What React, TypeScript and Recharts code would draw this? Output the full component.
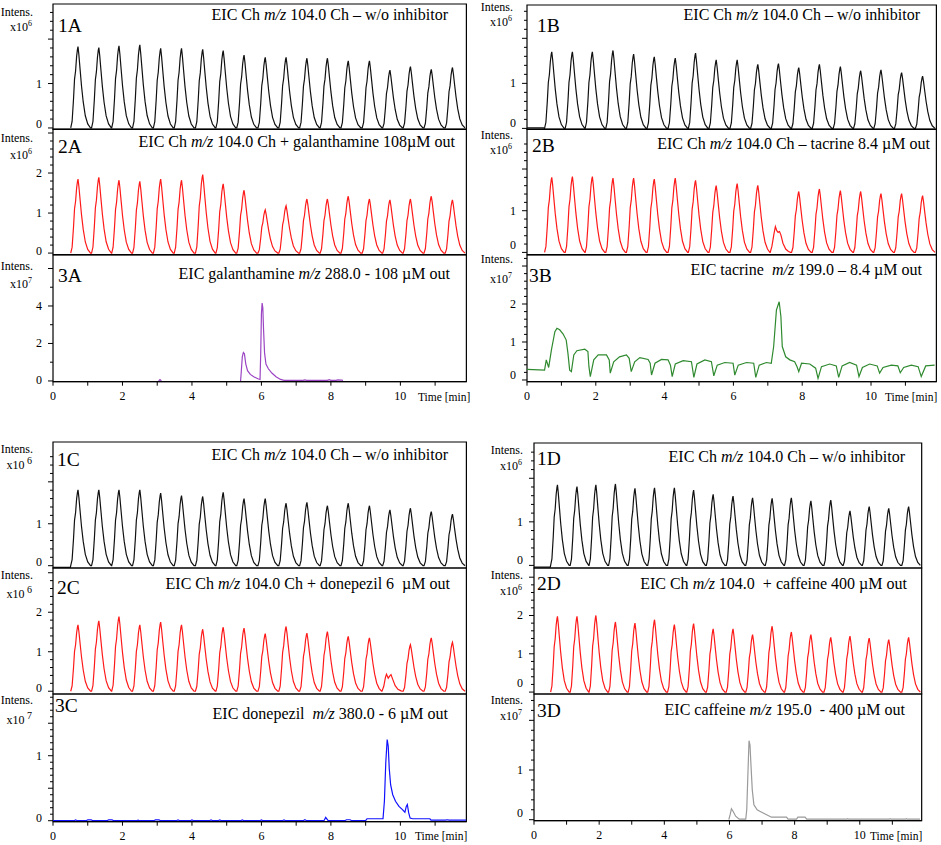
import React from 'react';
import { LineChart, Line, XAxis, YAxis, ReferenceArea } from 'recharts';

const FONT = "'Liberation Serif', 'Times New Roman', serif";
const X_MAX = 11.9;

// apex times (min) of the 19 choline pulses
const pulseTimes = [0.72, 1.32, 1.9, 2.5, 3.1, 3.7, 4.31, 4.9, 5.5, 6.11, 6.71, 7.31, 7.9, 8.5, 9.11, 9.7, 10.29, 10.89, 11.5];
// pulse profile: offset from apex (min) and fraction of apex
const pulseOffsets = [-0.21, -0.17, -0.13, -0.1, -0.07, -0.04, -0.015, 0, 0.025, 0.06, 0.1, 0.15, 0.21, 0.28, 0.36];
const pulseFractions = [0, 0.08, 0.35, 0.6, 0.7, 0.88, 0.97, 1, 0.9, 0.72, 0.52, 0.32, 0.15, 0.05, 0];

// apex intensities, x10^6
const ch1A = [1.83, 1.81, 1.85, 1.87, 1.79, 1.79, 1.77, 1.74, 1.64, 1.59, 1.59, 1.57, 1.57, 1.51, 1.51, 1.3, 1.38, 1.32, 1.36];
const ch2A = [1.85, 1.89, 1.82, 1.79, 1.85, 1.82, 1.96, 1.73, 1.57, 1.08, 1.18, 1.35, 1.35, 1.42, 1.35, 1.33, 1.35, 1.42, 1.33];
const ch1B = [1.7, 1.7, 1.7, 1.73, 1.65, 1.59, 1.56, 1.67, 1.52, 1.52, 1.42, 1.44, 1.35, 1.42, 1.37, 1.28, 1.3, 1.24, 1.16];
const ch2B = [1.8, 1.82, 1.82, 1.78, 1.78, 1.76, 1.78, 1.73, 1.6, 1.65, 1.61, null, 1.46, 1.52, 1.48, 1.46, 1.41, 1.41, 1.36];
const ch1C = [1.81, 1.81, 1.81, 1.81, 1.73, 1.67, 1.65, 1.75, 1.6, 1.6, 1.49, 1.51, 1.43, 1.49, 1.43, 1.33, 1.37, 1.29, 1.23];
const ch2C = [1.68, 1.78, 1.89, 1.68, 1.75, 1.68, 1.57, 1.62, 1.6, 1.46, 1.64, 1.47, 1.51, 1.39, 1.35, null, 1.18, 1.35, 1.24];
const ch1D = [1.85, 1.81, 1.85, 1.87, 1.77, 1.78, 1.78, 1.73, 1.63, 1.59, 1.55, 1.54, 1.55, 1.48, 1.5, 1.25, 1.35, 1.31, 1.35];
const ch2D = [1.98, 1.98, 2.0, 1.83, 1.8, 1.89, 1.76, 1.79, 1.65, 1.65, 1.5, 1.72, 1.57, 1.5, 1.43, 1.46, 1.41, 1.37, 1.43];

// flat starts before first pulse
const lead1B = [[0, 0.01], [0.48, 0.01]];
const lead1C = [[0, -0.04], [0.5, -0.04]];
const lead1D = [[0, -0.04], [0.5, -0.04]];

// suppressed pulses
const tacrinePulse = [[7.06, 0], [7.12, 0.15], [7.18, 0.45], [7.22, 0.62], [7.26, 0.52], [7.3, 0.48], [7.34, 0.5], [7.38, 0.42], [7.44, 0.22], [7.52, 0.08], [7.6, 0.02], [7.66, 0]];
const donepezilPulse = [[9.46, 0], [9.52, 0.12], [9.57, 0.35], [9.6, 0.43], [9.65, 0.33], [9.69, 0.38], [9.73, 0.42], [9.78, 0.3], [9.85, 0.14], [9.93, 0.05], [10.02, 0.01], [10.06, 0]];

// inhibitor traces, x10^7
const galanthamineBlip = [[3.04, 0], [3.08, 0.07], [3.12, 0]];
const galanthamineMain = [[5.4, 0], [5.42, 0.5], [5.45, 1.3], [5.48, 1.52], [5.51, 1.45], [5.55, 0.9], [5.6, 0.55], [5.68, 0.35], [5.78, 0.22], [5.9, 0.12], [5.96, 0.08], [5.98, 1.5], [6.0, 3.6], [6.02, 4.15], [6.04, 3.9], [6.06, 2.8], [6.09, 1.5], [6.13, 0.9], [6.2, 0.65], [6.3, 0.42], [6.42, 0.22], [6.55, 0.08], [6.65, 0.03], [7.2, 0.03], [7.25, 0.06], [7.3, 0.03], [7.9, 0.03], [7.95, 0.07], [8.0, 0.03], [8.15, 0.03], [8.2, 0.06], [8.3, 0.04], [8.35, 0.03]];

const tacrine = [[0, 0.28], [0.51, 0.26], [0.56, 0.53], [0.63, 0.33], [0.71, 0.79], [0.81, 1.27], [0.87, 1.36], [0.95, 1.32], [1.05, 1.21], [1.14, 1.05], [1.19, 0.7], [1.24, 0.26], [1.29, 0.22],
  [1.36, 0.66], [1.45, 0.77], [1.68, 0.81], [1.77, 0.75], [1.8, 0.35], [1.84, 0.09],
  [1.94, 0.53], [2.07, 0.66], [2.31, 0.66], [2.39, 0.53], [2.42, 0.18],
  [2.52, 0.48], [2.69, 0.61], [2.89, 0.66], [2.97, 0.57], [3.03, 0.22],
  [3.13, 0.48], [3.28, 0.59], [3.52, 0.54], [3.58, 0.44], [3.62, 0.13],
  [3.72, 0.44], [3.91, 0.54], [4.1, 0.53], [4.17, 0.39], [4.22, 0.09],
  [4.31, 0.42], [4.54, 0.51], [4.78, 0.48], [4.85, 0.07],
  [4.94, 0.42], [5.17, 0.53], [5.36, 0.48], [5.43, 0.11],
  [5.53, 0.39], [5.75, 0.46], [5.99, 0.44], [6.04, 0.13],
  [6.14, 0.39], [6.38, 0.46], [6.59, 0.44], [6.65, 0.07],
  [6.75, 0.39], [6.96, 0.46], [7.1, 0.44], [7.17, 0.88], [7.25, 1.84], [7.33, 2.06], [7.38, 1.67], [7.42, 0.88], [7.52, 0.61], [7.64, 0.53], [7.78, 0.48], [7.85, 0.35], [7.9, 0.22],
  [7.98, 0.44], [8.22, 0.42], [8.39, 0.31], [8.46, 0.04],
  [8.56, 0.35], [8.8, 0.42], [8.99, 0.37], [9.06, 0.07],
  [9.16, 0.37], [9.38, 0.46], [9.58, 0.39], [9.65, 0.09],
  [9.75, 0.33], [9.96, 0.42], [10.18, 0.37], [10.25, 0.18],
  [10.35, 0.33], [10.59, 0.39], [10.78, 0.37], [10.85, 0.19],
  [10.95, 0.33], [11.17, 0.39], [11.37, 0.35], [11.46, 0.09], [11.59, 0.37], [11.85, 0.39]];

const donepezil = [[0, 0], [0.6, 0], [0.65, 0.012], [0.7, 0], [0.95, 0], [1.0, 0.012], [1.1, 0.012], [1.15, 0], [1.55, 0], [1.6, 0.012], [1.7, 0.012], [1.75, 0], [2.4, 0], [2.45, 0.01], [2.5, 0], [2.9, 0], [2.95, 0.012], [3.05, 0.012], [3.1, 0], [3.55, 0], [3.6, 0.012], [3.65, 0], [3.95, 0], [4.0, 0.012], [4.05, 0], [4.5, 0], [4.55, 0.012], [4.6, 0], [4.75, 0], [4.8, 0.012], [4.85, 0], [5.4, 0], [5.45, 0.012], [5.5, 0], [5.95, 0], [6.0, 0.012], [6.05, 0], [6.6, 0], [6.65, 0.012], [6.7, 0], [7.2, 0], [7.25, 0.015], [7.3, 0], [7.8, 0], [7.85, 0.05], [7.92, 0], [8.4, 0], [8.45, 0.015], [8.55, 0.015], [8.6, 0], [9.0, 0], [9.04, 0.03], [9.5, 0.03], [9.54, 0.3], [9.58, 0.9], [9.62, 1.25], [9.65, 1.15], [9.68, 0.8], [9.72, 0.55], [9.78, 0.4], [9.86, 0.3], [9.96, 0.22], [10.06, 0.17], [10.13, 0.13], [10.17, 0.22], [10.2, 0.25], [10.24, 0.12], [10.28, 0.04], [10.35, 0.03], [10.85, 0.03], [10.88, 0.01], [11.3, 0.01], [11.35, 0.015], [11.4, 0.01], [11.9, 0.01]];

const caffeine = [[5.98, 0], [6.02, 0.1], [6.06, 0.22], [6.11, 0.17], [6.19, 0.07], [6.3, 0.01], [6.5, 0.01], [6.53, 0.2], [6.56, 0.8], [6.6, 1.59], [6.63, 1.5], [6.66, 1.1], [6.7, 0.6], [6.75, 0.3], [6.85, 0.2], [6.93, 0.17], [7.05, 0.13], [7.14, 0.1], [7.29, 0.05], [7.75, 0.05], [7.8, 0.01], [8.06, 0.01], [8.1, 0.05], [8.32, 0.05], [8.37, 0.01], [9.6, 0.01], [9.63, 0.02], [9.66, 0.01], [10.9, 0.01], [10.93, 0.02], [10.96, 0.01], [11.4, 0.01], [11.43, 0.02], [11.46, 0.01], [11.85, 0.01]];

// axis ticks
const xTicks = [0, 1, 2, 3, 4, 5, 6, 7, 8, 9, 10, 11];
const xLabels = [0, 2, 4, 6, 8, 10];
const yE6Major = [0, 1, 2];
const yE6Minor = [0.2, 0.4, 0.6, 0.8, 1.2, 1.4, 1.6, 1.8, 2.2, 2.4, 2.6];
const yE6bMajor = [0, 1, 2, 3];
const yE6bMinor = [0.2, 0.4, 0.6, 0.8, 1.2, 1.4, 1.6, 1.8, 2.2, 2.4, 2.6, 2.8];
const yGalMajor = [0, 2, 4, 6];
const yGalMinor = [1, 3, 5];
const yTacMajor = [0, 1, 2, 3];
const yTacMinor = [0.2, 0.4, 0.6, 0.8, 1.2, 1.4, 1.6, 1.8, 2.2, 2.4, 2.6, 2.8, 3.2];
const yDonMajor = [0, 0.5, 1, 1.5];
const yDonMinor = [0.1, 0.2, 0.3, 0.4, 0.6, 0.7, 0.8, 0.9, 1.1, 1.2, 1.3, 1.4, 1.6, 1.7, 1.8, 1.9];
const yCafMajor = [0, 1, 2];
const yCafMinor = [0.2, 0.4, 0.6, 0.8, 1.2, 1.4, 1.6, 1.8, 2.2, 2.4];

type Pt = { t: number; v: number | null };

function pulseTrain(heights: (number | null)[], lead: number[][] = [], extra: number[][] = []): Pt[] {
  const pts: number[][] = lead.map((p) => [p[0], p[1]]);
  heights.forEach((h, i) => {
    if (h === null) return;
    pulseOffsets.forEach((dt, k) => pts.push([pulseTimes[i] + dt, h * pulseFractions[k]]));
  });
  extra.forEach((p) => pts.push([p[0], p[1]]));
  pts.sort((a, b) => a[0] - b[0]);
  return pts.map(([t, v]) => ({ t, v }));
}
const toPts = (arr: number[][]): Pt[] => arr.map(([t, v]) => ({ t, v }));

const BLACK = '#111111';
const RED = '#ff1a1a';

const GEO: Record<string, { left: number; right: number; rows: number[][] }> = {
  A: { left: 53.3, right: 466.7, rows: [[4, 129.3], [129.3, 255], [255, 381.7]] },
  B: { left: 527.3, right: 936.7, rows: [[5, 129.3], [129.3, 255], [255, 381.7]] },
  C: { left: 53.3, right: 466.7, rows: [[442.3, 568.3], [568.3, 694.3], [694.3, 822]] },
  D: { left: 534, right: 921.7, rows: [[443.3, 568.3], [568.3, 694.3], [694.3, 821]] },
};

type Cfg = {
  panel: string; row: number; data: Pt[]; color: string; domain: [number, number];
  majors: number[]; minors: number[]; labels: number[]; zeroDy: number;
};

const subplots: Cfg[] = [
  { panel: 'A', row: 0, data: pulseTrain(ch1A), color: BLACK, domain: [-0.03, 2.79], majors: yE6Major, minors: yE6Minor, labels: [0, 1], zeroDy: -4 },
  { panel: 'A', row: 1, data: pulseTrain(ch2A), color: RED, domain: [-0.04, 3.1], majors: yE6bMajor, minors: yE6bMinor, labels: [0, 1, 2], zeroDy: -2 },
  { panel: 'A', row: 2, data: [...toPts(galanthamineBlip), { t: 4, v: null }, ...toPts(galanthamineMain)], color: '#9b45c4', domain: [-0.04, 6.72], majors: yGalMajor, minors: yGalMinor, labels: [0, 2, 4], zeroDy: -1 },
  { panel: 'B', row: 0, data: pulseTrain(ch1B, lead1B), color: BLACK, domain: [-0.02, 2.74], majors: yE6Major, minors: yE6Minor, labels: [0, 1], zeroDy: -5 },
  { panel: 'B', row: 1, data: pulseTrain(ch2B, [], tacrinePulse), color: RED, domain: [-0.055, 2.96], majors: yE6Major, minors: yE6Minor, labels: [0, 1], zeroDy: -7.5 },
  { panel: 'B', row: 2, data: toPts(tacrine), color: '#2f8a2f', domain: [-0.045, 3.29], majors: yTacMajor, minors: yTacMinor, labels: [0, 1, 2], zeroDy: -5 },
  { panel: 'C', row: 0, data: pulseTrain(ch1C, lead1C), color: BLACK, domain: [-0.055, 2.95], majors: yE6Major, minors: yE6Minor, labels: [0, 1], zeroDy: -4 },
  { panel: 'C', row: 1, data: pulseTrain(ch2C, [], donepezilPulse), color: RED, domain: [-0.07, 3.12], majors: yE6bMajor, minors: yE6bMinor, labels: [0, 1, 2], zeroDy: -3 },
  { panel: 'C', row: 2, data: toPts(donepezil), color: '#1010ff', domain: [-0.015, 1.95], majors: yDonMajor, minors: yDonMinor, labels: [0, 1], zeroDy: -3 },
  { panel: 'D', row: 0, data: pulseTrain(ch1D, lead1D), color: BLACK, domain: [-0.06, 2.81], majors: yE6Major, minors: yE6Minor, labels: [0, 1], zeroDy: -5 },
  { panel: 'D', row: 1, data: pulseTrain(ch2D), color: RED, domain: [-0.05, 3.24], majors: yE6bMajor, minors: yE6bMinor, labels: [0, 1, 2], zeroDy: -9 },
  { panel: 'D', row: 2, data: toPts(caffeine), color: '#9a9a9a', domain: [-0.02, 2.53], majors: yCafMajor, minors: yCafMinor, labels: [0, 1], zeroDy: -7 },
];

const near = (a: number, b: number) => Math.abs(a - b) < 1e-6;

function Subplot({ cfg }: { cfg: Cfg }) {
  const g = GEO[cfg.panel];
  const [top, bottom] = g.rows[cfg.row];
  const showX = cfg.row === 2;
  const YW = 50, PAD = 6, XH = 30;
  const w = g.right - g.left + YW + PAD;
  const h = bottom - top + PAD + (showX ? XH : PAD);
  const yTick = (p: any) => {
    const v = p.payload.value;
    const major = cfg.majors.some((m) => near(m, v));
    const len = major ? 5 : 3;
    const lab = cfg.labels.find((l) => near(l, v));
    return (
      <g>
        <line x1={p.x - len} x2={p.x} y1={p.y} y2={p.y} stroke="#000" strokeWidth={1} />
        {lab !== undefined && (
          <text x={p.x - 11} y={p.y + 4 + (near(v, 0) ? cfg.zeroDy : 0)} textAnchor="end" fontSize={12} fontFamily={FONT} fill="#000">
            {String(lab)}
          </text>
        )}
      </g>
    );
  };
  const xTick = (p: any) => {
    const v = p.payload.value;
    const lab = xLabels.find((l) => near(l, v));
    return (
      <g>
        <line x1={p.x} x2={p.x} y1={p.y} y2={p.y + 4} stroke="#000" strokeWidth={1} />
        {lab !== undefined && (
          <text x={p.x} y={p.y + 18} textAnchor="middle" fontSize={12} fontFamily={FONT} fill="#000">
            {String(lab)}
          </text>
        )}
      </g>
    );
  };
  return (
    <div style={{ position: 'absolute', left: g.left - YW, top: top - PAD }}>
      <LineChart width={w} height={h} data={cfg.data} margin={{ top: PAD, right: PAD, bottom: showX ? 0 : PAD, left: 0 }}>
        <XAxis
          dataKey="t" type="number" domain={[0, X_MAX]} allowDataOverflow hide={!showX}
          ticks={xTicks} interval={0} tickSize={0} tickMargin={0} height={XH}
          axisLine={{ stroke: '#000' }} tickLine={false} tick={xTick}
        />
        <YAxis
          type="number" domain={cfg.domain} allowDataOverflow ticks={[...cfg.majors, ...cfg.minors]}
          interval={0} width={YW} axisLine={false} tickLine={false} tickSize={0} tickMargin={0} tick={yTick}
        />
        <ReferenceArea x1={0} x2={X_MAX} y1={cfg.domain[0]} y2={cfg.domain[1]} fill="none" stroke="#000" strokeWidth={1.2} ifOverflow="visible" />
        <Line dataKey="v" type="linear" stroke={cfg.color} strokeWidth={1.2} dot={false} connectNulls={false} isAnimationActive={false} />
      </LineChart>
    </div>
  );
}

const W06 = 'w/o inhibitor';
const titles = [
  { x: 448, y: 20, pre: 'EIC Ch ', post: ' 104.0 Ch – ' + W06 },
  { x: 455, y: 147, pre: 'EIC Ch ', post: ' 104.0 Ch + galanthamine 108µM out' },
  { x: 450, y: 278.5, pre: 'EIC galanthamine ', post: ' 288.0 - 108 µM out' },
  { x: 920, y: 20, pre: 'EIC Ch ', post: ' 104.0 Ch – ' + W06 },
  { x: 930, y: 149, pre: 'EIC Ch ', post: ' 104.0 Ch – tacrine 8.4 µM out' },
  { x: 922, y: 275, pre: 'EIC tacrine  ', post: ' 199.0 – 8.4 µM out' },
  { x: 448, y: 460, pre: 'EIC Ch ', post: ' 104.0 Ch – ' + W06 },
  { x: 450, y: 588.5, pre: 'EIC Ch ', post: ' 104.0 Ch + donepezil 6  µM out' },
  { x: 448, y: 719, pre: 'EIC donepezil  ', post: ' 380.0 - 6 µM out' },
  { x: 905, y: 462, pre: 'EIC Ch ', post: ' 104.0 Ch – ' + W06 },
  { x: 907, y: 588.5, pre: 'EIC Ch ', post: ' 104.0  + caffeine 400 µM out' },
  { x: 905, y: 714.5, pre: 'EIC caffeine ', post: ' 195.0  - 400 µM out' },
];
const panelTags = [
  { x: 58, y: 31.5, s: '1A' }, { x: 58, y: 153, s: '2A' }, { x: 58, y: 281.5, s: '3A' },
  { x: 537, y: 31.5, s: '1B' }, { x: 532, y: 151.5, s: '2B' }, { x: 529, y: 281.5, s: '3B' },
  { x: 57, y: 465.5, s: '1C' }, { x: 57, y: 594, s: '2C' }, { x: 55, y: 711.5, s: '3C' },
  { x: 537, y: 465, s: '1D' }, { x: 537, y: 590, s: '2D' }, { x: 537, y: 716.5, s: '3D' },
];
const intens = [
  { x: 33, y1: 15.5, y2: 31, e: '6', c: false }, { x: 33, y1: 142.3, y2: 159, e: '6', c: false }, { x: 33, y1: 270, y2: 288, e: '7', c: false },
  { x: 513, y1: 11, y2: 26, e: '6', c: false }, { x: 513, y1: 138.5, y2: 153.5, e: '6', c: false }, { x: 513, y1: 263, y2: 283, e: '7', c: false },
  { x: 33, y1: 452.5, y2: 469, e: '6', c: true }, { x: 33, y1: 578.5, y2: 598, e: '6', c: true }, { x: 33, y1: 703.5, y2: 724, e: '7', c: true },
  { x: 523, y1: 454, y2: 469.5, e: '6', c: false }, { x: 523, y1: 579, y2: 594.5, e: '6', c: false }, { x: 523, y1: 704, y2: 719.5, e: '7', c: false },
];
const timeLabels = [{ x: 418, y: 400.7 }, { x: 885, y: 400.7 }, { x: 415, y: 839.7 }, { x: 870, y: 839.7 }];

export default function App() {
  return (
    <div style={{ position: 'absolute', left: 0, top: 0, width: 941, height: 845, background: '#fff', overflow: 'hidden', fontFamily: FONT }}>
      {subplots.map((cfg, i) => (
        <Subplot key={i} cfg={cfg} />
      ))}
      <svg width={941} height={845} style={{ position: 'absolute', left: 0, top: 0, pointerEvents: 'none' }}>
        {titles.map((t, i) => (
          <text key={'t' + i} x={t.x} y={t.y} textAnchor="end" fontSize={16} fontFamily={FONT} fill="#000" style={{ whiteSpace: 'pre' }}>
            {t.pre}
            <tspan fontStyle="italic">m/z</tspan>
            {t.post}
          </text>
        ))}
        {panelTags.map((p, i) => (
          <text key={'p' + i} x={p.x} y={p.y} fontSize={19.5} fontFamily={FONT} fill="#000">{p.s}</text>
        ))}
        {intens.map((l, i) => (
          <g key={'i' + i}>
            <text x={l.x} y={l.y1} textAnchor="end" fontSize={12} fontFamily={FONT} fill="#000">Intens.</text>
            <text x={l.x - 1} y={l.y2} textAnchor="end" fontSize={12} fontFamily={FONT} fill="#000" style={{ whiteSpace: 'pre' }}>
              {'x10'}
              <tspan fontSize={l.c ? 10 : 8} dy={-5}>{l.c ? ' ' + l.e : l.e}</tspan>
            </text>
          </g>
        ))}
        {timeLabels.map((l, i) => (
          <text key={'x' + i} x={l.x} y={l.y} fontSize={11.5} fontFamily={FONT} fill="#000">Time [min]</text>
        ))}
      </svg>
    </div>
  );
}
